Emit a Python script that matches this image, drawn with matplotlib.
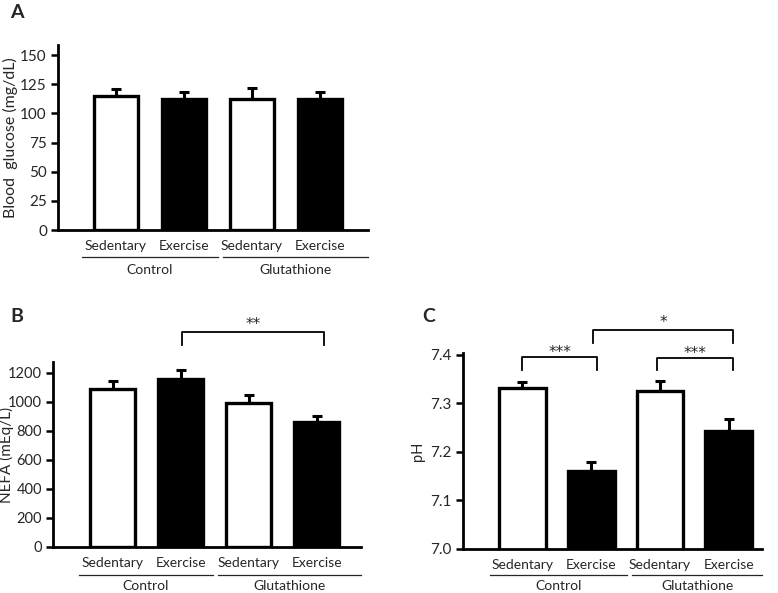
import matplotlib
matplotlib.use("Agg")
import matplotlib.pyplot as plt
import matplotlib.transforms as mtransforms
import numpy as np

plt.rcParams['font.family'] = ['Lato', 'DejaVu Sans']

categories = ["Sedentary", "Exercise", "Sedentary", "Exercise"]
groups = ["Control", "Glutathione"]
fills = ["white", "black", "white", "black"]

glucose = [115, 112, 112, 112]
glucose_err = [6, 6.5, 9.5, 6.5]

nefa = [1090, 1160, 990, 862]
nefa_err = [50, 60, 60, 42]

ph = [7.331, 7.160, 7.326, 7.243]
ph_err = [0.014, 0.020, 0.021, 0.025]

TXT = '#262626'
fig = plt.figure(figsize=(7.78, 5.93), dpi=100)
W, H = 778, 593


def make_axes(x0, x1, ybot, ytop):
    return fig.add_axes([x0 / W, (H - ybot) / H, (x1 - x0) / W, (ybot - ytop) / H])


def draw_panel(ax, vals, errs, width, xlim, ylim, yticks, ylabels, ylabel,
               ylabel_x, ylabel_size, glines, gline_y, glabel_y, tick_pad,
               ytick_size=11):
    x = np.arange(len(vals))
    ax.bar(x, vals, width=width, color=fills, edgecolor='black', linewidth=2.4,
           zorder=2)
    ax.errorbar(x, vals, yerr=[np.zeros(len(errs)), errs], fmt='none',
                ecolor='black', elinewidth=2.2, capsize=3.5, capthick=2.2,
                zorder=1)
    ax.set_xlim(*xlim)
    ax.set_ylim(*ylim)
    ax.set_yticks(yticks)
    ax.set_yticklabels(ylabels, fontsize=ytick_size, color=TXT)
    ax.set_xticks(x)
    ax.set_xticklabels(categories, fontsize=10, color=TXT)
    ax.tick_params(axis='x', length=0, pad=tick_pad)
    ax.tick_params(axis='y', length=5, width=1.8, direction='out', pad=3)
    for s in ['top', 'right']:
        ax.spines[s].set_visible(False)
    for s in ['left', 'bottom']:
        ax.spines[s].set_linewidth(2.0)
    ax.set_ylabel(ylabel, fontsize=ylabel_size, color=TXT)
    ax.yaxis.set_label_coords(ylabel_x, 0.5)
    trans = mtransforms.blended_transform_factory(ax.transData, ax.transAxes)
    for (a, b), name in zip(glines, groups):
        ax.plot([a, b], [gline_y, gline_y], color=TXT, lw=0.9, transform=trans,
                clip_on=False)
        ax.text((a + b) / 2, glabel_y, name, transform=trans, ha='center',
                va='center', fontsize=10, color=TXT)


def bracket(ax, x1, x2, ytop, ybot, label, ty):
    ax.plot([x1, x1, x2, x2], [ybot, ytop, ytop, ybot], color='black', lw=1.3,
            clip_on=False)
    ax.text((x1 + x2) / 2, ty, label, ha='center', va='center', fontsize=11,
            family='DejaVu Sans', color=TXT, clip_on=False)


# Panel A
axA = make_axes(58, 368, 230, 45)
draw_panel(axA, glucose, glucose_err, 0.65, (-0.853, 3.706), (0, 158.6),
           [0, 25, 50, 75, 100, 125, 150],
           ['0', '25', '50', '75', '100', '125', '150'],
           'Blood  glucose (mg/dL)', -0.13, 11.5,
           [(-0.5, 1.5), (1.57, 3.7)], -0.146, -0.216, 7)

# Panel B
axB = make_axes(53, 361, 547, 362)
draw_panel(axB, nefa, nefa_err, 0.66, (-0.875, 3.65), (0, 1274),
           [0, 200, 400, 600, 800, 1000, 1200],
           ['0', '200', '400', '600', '800', '1000', '1200'],
           'NEFA (mEq/L)', -0.128, 11,
           [(-0.5, 1.47), (1.55, 3.65)], -0.151, -0.21, 7, ytick_size=10.5)
bracket(axB, 1.02, 3.1, 1480, 1391, '**', 1535)

# Panel C
axC = make_axes(463, 762, 549, 353)
draw_panel(axC, ph, ph_err, 0.68, (-0.866, 3.486), (7.0, 7.404),
           [7.0, 7.1, 7.2, 7.3, 7.4],
           ['7.0', '7.1', '7.2', '7.3', '7.4'],
           'pH', -0.127, 10.5,
           [(-0.47, 1.52), (1.6, 3.486)], -0.133, -0.19, 7)
bracket(axC, 0.0, 1.08, 7.396, 7.369, '***', 7.405)
bracket(axC, 1.96, 3.07, 7.394, 7.369, '***', 7.403)
bracket(axC, 1.03, 3.07, 7.452, 7.425, '*', 7.466)

# Panel letters
fig.text(10 / W, 1 - 13 / H, 'A', fontsize=14, fontweight='bold', va='center', color=TXT)
fig.text(10 / W, 1 - 317 / H, 'B', fontsize=14, fontweight='bold', va='center', color=TXT)
fig.text(422 / W, 1 - 317 / H, 'C', fontsize=14, fontweight='bold', va='center', color=TXT)

fig.savefig('out.png', dpi=100)
